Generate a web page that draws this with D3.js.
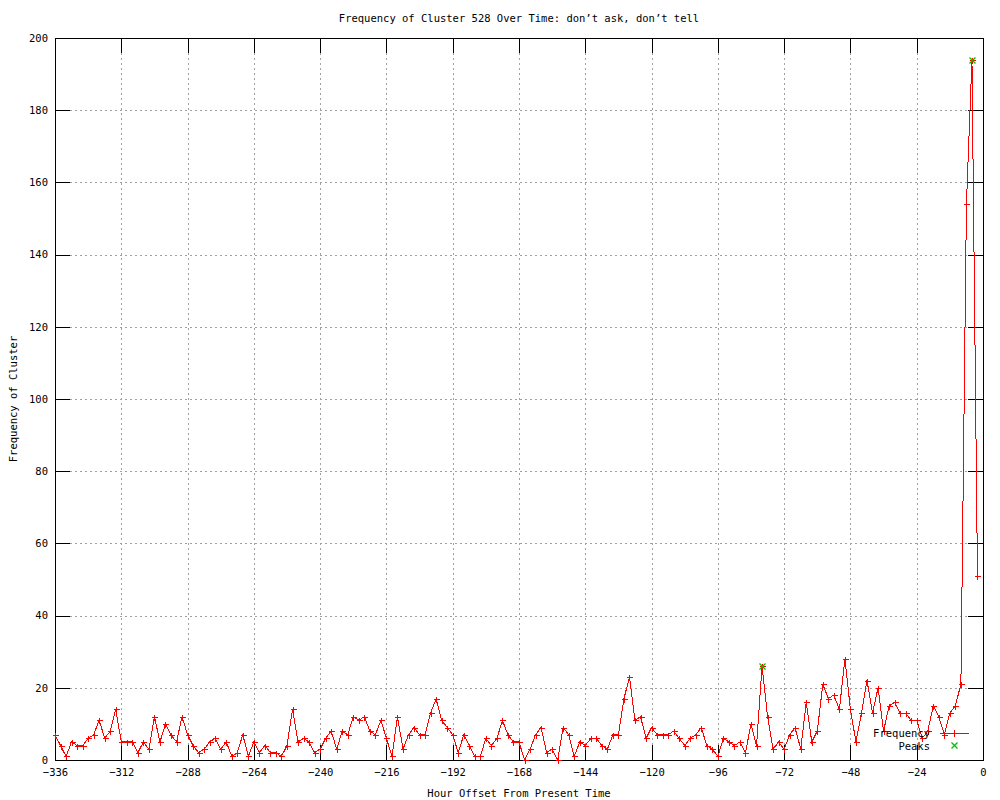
<!DOCTYPE html>
<html>
<head>
<meta charset="utf-8">
<script src="https://cdn.jsdelivr.net/npm/d3@7"></script>
<style>
  body { margin: 0; background: #fff; }
  svg text { font-family: "DejaVu Sans Mono", monospace; font-size: 10.5px; fill: #000; }
</style>
</head>
<body>
<div id="chart"></div>
<script>
// hour offsets of the samples (one every two hours)
var hours = d3.range(-336, 0, 2);
var frequency = [
  7,4,1,5,4,4,6,7,11,6,8,14,5,5,5,2,5,3,12,5,10,7,5,12,7,4,2,3,5,
  6,3,5,1,2,7,1,5,2,4,2,2,1,4,14,5,6,5,2,3,6,8,3,8,7,12,11,12,
  8,7,11,6,1,12,3,7,9,7,7,13,17,11,9,7,2,7,4,1,1,6,4,6,11,7,5,5,
  0,3,7,9,2,3,0,9,7,1,5,4,6,6,4,3,7,7,17,23,11,12,6,9,7,7,7,8,
  6,4,6,7,9,4,3,1,6,5,4,5,2,10,4,26,12,3,5,3,7,9,3,16,5,8,21,17,
  18,14,28,14,5,13,22,13,20,8,15,16,13,13,11,11,6,8,15,12,7,13,15,21,154,194,51
];
var peakHours = [-80, -4];
var peakValues = [26, 194];
var xTicks = d3.range(-336, 1, 24);
var yTicks = d3.range(0, 201, 20);

var width = 1000,
    height = 800,
    margin = {top: 38, right: 17, bottom: 40, left: 55},
    drawWidth = width - margin.left - margin.right,
    drawHeight = height - margin.top - margin.bottom,
    tickLen = 15,
    green = '#00c000';

var data = hours.map(function(h, i) { return {h: h, v: frequency[i]}; });
var peaks = peakHours.map(function(h, i) { return {h: h, v: peakValues[i]}; });

var svg = d3.select('#chart')
  .append('svg')
  .attr('width', width)
  .attr('height', height);

var g = svg.append('g')
  .attr('transform', 'translate(' + margin.left + ',' + margin.top + ')');

var x = d3.scaleLinear().domain([-336, 0]).range([0, drawWidth]);
var y = d3.scaleLinear().domain([0, 200]).range([drawHeight, 0]);

// grid
g.append('g').selectAll('line')
  .data(xTicks.slice(1, -1))
  .enter().append('line')
  .attr('x1', function(d) { return Math.round(x(d)) + 0.5; })
  .attr('x2', function(d) { return Math.round(x(d)) + 0.5; })
  .attr('y1', 0).attr('y2', drawHeight)
  .attr('stroke', '#a0a0a0').attr('stroke-dasharray', '2,3');
g.append('g').selectAll('line')
  .data(yTicks.slice(1, -1))
  .enter().append('line')
  .attr('y1', function(d) { return Math.round(y(d)) + 0.5; })
  .attr('y2', function(d) { return Math.round(y(d)) + 0.5; })
  .attr('x1', 0).attr('x2', drawWidth)
  .attr('stroke', '#a0a0a0').attr('stroke-dasharray', '2,3');

// axes: inward ticks on all four sides
var axisB = d3.axisBottom(x).tickValues(xTicks).tickSizeInner(-tickLen).tickSizeOuter(0).tickPadding(9);
var axisT = d3.axisTop(x).tickValues(xTicks).tickSizeInner(-tickLen).tickSizeOuter(0).tickFormat('');
var axisL = d3.axisLeft(y).tickValues(yTicks).tickSizeInner(-tickLen).tickSizeOuter(0).tickPadding(7);
var axisR = d3.axisRight(y).tickValues(yTicks).tickSizeInner(-tickLen).tickSizeOuter(0).tickFormat('');

function styleAxis(sel) {
  sel.select('.domain').remove();
  sel.selectAll('line').attr('stroke', '#000').attr('shape-rendering', 'crispEdges');
  sel.attr('font-family', null).attr('font-size', null);
}
g.append('g').attr('transform', 'translate(0,' + drawHeight + ')').call(axisB).call(styleAxis);
g.append('g').call(axisT).call(styleAxis);
g.append('g').call(axisL).call(styleAxis);
g.append('g').attr('transform', 'translate(' + drawWidth + ',0)').call(axisR).call(styleAxis);

g.append('rect')
  .attr('x', 0.5).attr('y', 0.5)
  .attr('width', drawWidth).attr('height', drawHeight)
  .attr('fill', 'none').attr('stroke', '#000')
  .attr('shape-rendering', 'crispEdges');

// frequency line
var line = d3.line()
  .x(function(d) { return x(d.h); })
  .y(function(d) { return y(d.v); });

g.append('path')
  .datum(data)
  .attr('d', line)
  .attr('fill', 'none')
  .attr('stroke', '#ff0000')
  .attr('stroke-width', 1)
  .attr('shape-rendering', 'crispEdges');

function plus(sel, size) {
  sel.attr('d', function(d) {
    var px = Math.round(x(d.h)) + 0.5, py = Math.round(y(d.v)) + 0.5;
    return 'M' + (px - size) + ',' + py + 'H' + (px + size) +
           'M' + px + ',' + (py - size) + 'V' + (py + size);
  });
}
function cross(sel, size) {
  sel.attr('d', function(d) {
    var px = Math.round(x(d.h)) + 0.5, py = Math.round(y(d.v)) + 0.5;
    return 'M' + (px - size) + ',' + (py - size) + 'L' + (px + size) + ',' + (py + size) +
           'M' + (px - size) + ',' + (py + size) + 'L' + (px + size) + ',' + (py - size);
  });
}

g.append('g').selectAll('path')
  .data(data)
  .enter().append('path')
  .attr('fill', 'none').attr('stroke', '#ff0000')
  .attr('shape-rendering', 'crispEdges')
  .call(plus, 3);

g.append('g').selectAll('path')
  .data(peaks)
  .enter().append('path')
  .attr('fill', 'none').attr('stroke', green)
  .attr('stroke-width', 1.3)
  .call(cross, 3);

// legend
var legend = svg.append('g');
legend.append('text').attr('x', 930).attr('y', 737).attr('text-anchor', 'end').text('Frequency');
legend.append('line').attr('x1', 940).attr('x2', 969).attr('y1', 733.5).attr('y2', 733.5)
  .attr('stroke', '#ff0000').attr('shape-rendering', 'crispEdges');
legend.append('path').attr('d', 'M951,733.5H957M954.5,730V737')
  .attr('stroke', '#ff0000').attr('fill', 'none').attr('shape-rendering', 'crispEdges');
legend.append('text').attr('x', 930).attr('y', 750).attr('text-anchor', 'end').text('Peaks');
legend.append('path').attr('d', 'M951.5,742.5L957.5,748.5M951.5,748.5L957.5,742.5')
  .attr('stroke', green).attr('stroke-width', 1.3).attr('fill', 'none');

// titles
svg.append('text')
  .attr('x', margin.left + drawWidth / 2).attr('y', 22)
  .attr('text-anchor', 'middle')
  .text('Frequency of Cluster 528 Over Time: don\u2019t ask, don\u2019t tell');

svg.append('text')
  .attr('x', margin.left + drawWidth / 2).attr('y', 797)
  .attr('text-anchor', 'middle')
  .text('Hour Offset From Present Time');

svg.append('text')
  .attr('transform', 'translate(17,' + (margin.top + drawHeight / 2) + ') rotate(-90)')
  .attr('text-anchor', 'middle')
  .text('Frequency of Cluster');
</script>
</body>
</html>
